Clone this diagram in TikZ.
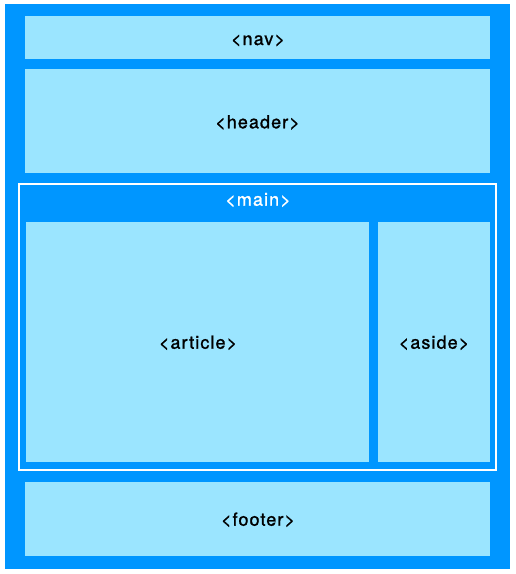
\documentclass[tikz,border=0pt]{standalone}
\usepackage{fontspec}
\setmainfont{TeX Gyre Heros}[LetterSpace=6, FakeBold=1.2]
\definecolor{outerblue}{RGB}{0,150,255}
\definecolor{lightblue}{RGB}{155,229,255}
\begin{document}
\begin{tikzpicture}[x=1pt,y=-1pt,
  every node/.style={inner sep=0pt, outer sep=0pt},
  lbl/.style={anchor=base, font=\fontsize{18}{21}\selectfont, text=black},
  region/.style={fill=lightblue, draw=none},
  frame/.style={fill=outerblue, draw=none},
  mainframe/.style={draw=white, line width=2pt, fill=none}]
\useasboundingbox (0,0) rectangle (515,574);
\node[frame, minimum width=505pt, minimum height=565pt] (outer) at (257.5,286.5) {};
\node[region, minimum width=465pt, minimum height=43pt] (nav) at (257.5,37.5) {};
\node[region, minimum width=465pt, minimum height=104pt] (header) at (257.5,121) {};
\node[mainframe, minimum width=477pt, minimum height=286pt] (main) at (257.5,327) {};
\node[region, minimum width=343pt, minimum height=240pt] (article) at (197.5,342) {};
\node[region, minimum width=112pt, minimum height=240pt] (aside) at (434,342) {};
\node[region, minimum width=465pt, minimum height=74pt] (footer) at (257.5,519) {};
\node[lbl] (navlabel) at (258,45) {<nav>};
\node[lbl] (headerlabel) at (257.5,128.3) {<header>};
\node[lbl, text=white] (mainlabel) at (258,205.7) {<main>};
\node[lbl] (articlelabel) at (198,348.7) {<article>};
\node[lbl] (asidelabel) at (434,348.7) {<aside>};
\node[lbl] (footerlabel) at (258,525.7) {<footer>};
\end{tikzpicture}
\end{document}
